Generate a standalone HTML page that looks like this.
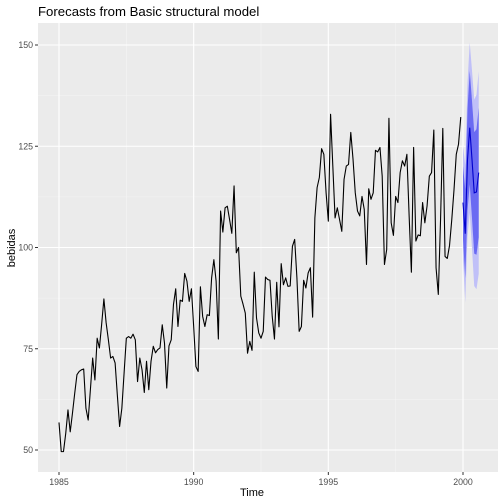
<!DOCTYPE html>
<html><head><meta charset="utf-8"><style>
body{margin:0;background:#fff}
svg{display:block;font-family:"Liberation Sans",sans-serif}
</style></head><body>
<svg id="chart" width="504" height="504">
<rect x="0" y="0" width="504" height="504" fill="#fff"/>
<text x="38" y="16" font-size="13.2" fill="#000">Forecasts from Basic structural model</text>
<rect x="38" y="23" width="460" height="449" fill="#EBEBEB"/>
<g id="grid"></g><g id="bands"></g><g id="lines"></g><g id="axes"></g>
<text x="252" y="496" font-size="11" text-anchor="middle" fill="#000">Time</text>
<text transform="translate(15,248) rotate(-90)" font-size="11" text-anchor="middle" fill="#000">bebidas</text>
</svg>
<script>
const startYear = 1985;
const freq = 12;
const observed = [56.8,49.6,49.6,54.1,59.9,54.5,59.1,64.0,68.6,69.4,69.8,70.0,60.3,57.4,65.0,72.7,67.3,77.6,75.2,81.0,87.3,81.4,77.2,72.7,73.1,71.5,63.5,55.8,60.3,69.0,77.6,78.0,77.6,78.6,77.2,66.9,72.7,69.8,64.2,71.9,64.9,71.9,75.6,74.0,74.8,75.2,80.9,76.4,65.3,75.7,77.2,85.9,89.8,80.5,87.0,86.7,93.6,91.7,86.7,89.8,80.5,70.6,
69.4,90.3,83.0,80.5,83.4,83.2,92.5,97.0,91.7,77.4,109.0,103.8,109.8,110.2,106.9,103.5,115.2,98.7,100.0,88.0,86.0,83.8,73.9,76.8,74.6,93.9,82.6,78.9,77.6,79.3,92.7,92.1,91.9,83.0,77.4,91.4,80.4,96.0,90.8,92.5,90.4,90.5,100.3,102.0,92.5,79.3,80.5,91.9,90.0,93.7,95.0,82.8,107.3,114.8,117.3,124.4,123.0,113.5,106.5,132.9,120.1,107.3,109.8,
106.9,104.0,116.8,120.1,120.5,128.4,121.8,113.5,109.0,107.8,112.6,109.4,95.8,114.5,111.9,113.5,124.0,123.6,124.7,117.6,95.8,99.5,131.9,106.1,103.0,112.6,111.1,118.5,121.4,120.1,123.0,107.8,93.9,124.7,101.6,103.1,102.9,111.1,106.1,110.3,117.6,118.5,129.0,95.0,88.4,106.9,129.4,97.8,97.3,100.5,106.9,114.3,123.0,125.5,132.2];
const fcStart = 2000;
const fcMean = [111.1,103.4,121.6,129.6,121.8,113.5,113.7,118.5];
const fcHalf95 = [14,17,19,21,22,23,24,25];
const fcHalf80 = [9,11,12.5,14,14.5,15,15.5,16];
const xTicks = [1985,1990,1995,2000];
const yTicks = [50,75,100,125,150];

const NS="http://www.w3.org/2000/svg";
const X0=38,X1=498,Y0=23,Y1=472;
function xs(t){return 59+(t-1985)*(463-59)/15;}
function ys(v){return 450-(v-50)*(450-45)/100;}
function mk(tag,attrs,parent){const e=document.createElementNS(NS,tag);for(const k in attrs)e.setAttribute(k,attrs[k]);parent.appendChild(e);return e;}
const grid=document.getElementById('grid'),bands=document.getElementById('bands'),lines=document.getElementById('lines'),axes=document.getElementById('axes');
// minor grid
for(let i=0;i<xTicks.length;i++){const t=xTicks[i]+2.5;const x=xs(t);if(x<X1){const l=mk('line',{x1:x,x2:x,y1:Y0,y2:Y1,stroke:'#F5F5F5','stroke-width':0.6},grid);}}
for(let i=0;i<yTicks.length-1;i++){const y=ys(yTicks[i]+12.5);const l=mk('line',{x1:X0,x2:X1,y1:y,y2:y,stroke:'#F5F5F5','stroke-width':0.6},grid);}
{const x=xs(xTicks[0]-2.5);if(x>X0){const l=mk('line',{x1:x,x2:x,y1:Y0,y2:Y1,stroke:'#F5F5F5','stroke-width':0.6},grid);}}
xTicks.forEach(t=>{const x=xs(t);
 const l=mk('line',{x1:x,x2:x,y1:Y0,y2:Y1,stroke:'#fff','stroke-width':1.1},grid);
 
 
 const tk=mk('line',{x1:x,x2:x,y1:Y1,y2:Y1+3,stroke:'#333','stroke-width':1},axes);
 
 
 const tx=mk('text',{x:x,y:Y1+13,'font-size':8.8,'text-anchor':'middle',fill:'#4D4D4D'},axes);tx.textContent=t;
 
 });
yTicks.forEach(v=>{const y=ys(v);
 const l=mk('line',{x1:X0,x2:X1,y1:y,y2:y,stroke:'#fff','stroke-width':1.1},grid);
 
 
 const tk=mk('line',{x1:X0-3,x2:X0,y1:y,y2:y,stroke:'#333','stroke-width':1},axes);
 
 
 const tx=mk('text',{x:X0-5,y:y+3,'font-size':8.8,'text-anchor':'end',fill:'#4D4D4D'},axes);tx.textContent=v;
 
 });
function band(half,fill,name){let up=[],dn=[];fcMean.forEach((m,i)=>{const x=xs(fcStart+i/freq);up.push(x+','+ys(m+half[i]));dn.unshift(x+','+ys(m-half[i]));});
 const p=mk('polygon',{points:up.concat(dn).join(' '),fill:fill},bands);
 
 }
band(fcHalf95,'#C0C0F8','prediction-interval-95');
band(fcHalf80,'#6A6AF2','prediction-interval-80');
const obs=mk('polyline',{points:observed.map((v,i)=>xs(startYear+i/freq)+','+ys(v)).join(' '),fill:'none',stroke:'#000','stroke-width':1.1,'stroke-linejoin':'round'},lines);


const fc=mk('polyline',{points:fcMean.map((v,i)=>xs(fcStart+i/freq)+','+ys(v)).join(' '),fill:'none',stroke:'#0000CC','stroke-width':1.1},lines);


</script>
</body></html>
